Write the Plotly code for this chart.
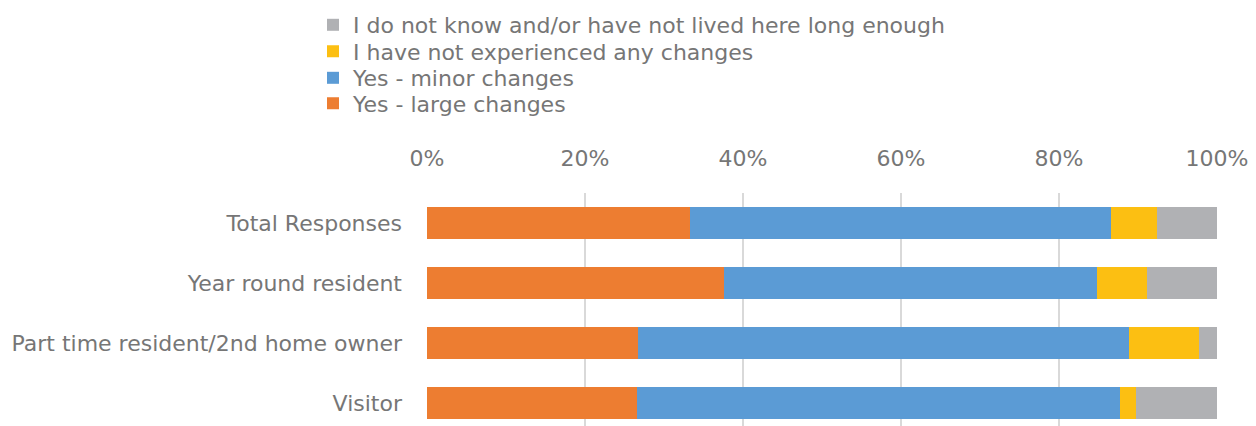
import plotly.graph_objects as go

categories = ["Total Responses", "Year round resident", "Part time resident/2nd home owner", "Visitor"]
large = [33.3, 37.6, 26.7, 26.6]
minor = [53.3, 47.2, 62.2, 61.1]
none_ = [5.8, 6.3, 8.8, 2.0]
dont_know = [7.6, 8.9, 2.3, 10.3]

series_names = ["Yes - large changes", "Yes - minor changes",
                "I have not experienced any changes",
                "I do not know and/or have not lived here long enough"]
series_values = [large, minor, none_, dont_know]
series_colors = ["#ED7D31", "#5B9BD5", "#FCBF12", "#B0B1B4"]

tickvals = [0, 20, 40, 60, 80, 100]
ticktext = ["0%", "20%", "40%", "60%", "80%", "100%"]

TXT = "#767676"
FONT = "DejaVu Sans"
FS = 22

# page has an 8px body margin; compensate
OFF = 8
W, H = 1256 - OFF, 426 - OFF
x0_abs, x1_abs, top_abs, bot_abs = 427, 1217, 193, 426
ml = x0_abs - OFF
mr = (W + OFF) - x1_abs
mt = top_abs - OFF
mb = 0
ph = bot_abs - top_abs
pw = x1_abs - x0_abs

# legend rows (absolute y centres) – top row is the last series
legend_rows = [103.5, 78, 51.5, 25]
legend_x_abs = 313

fig = go.Figure()
layout_legends = {}
for i, (name, vals, color) in enumerate(zip(series_names, series_values, series_colors)):
    key = "legend" if i == 0 else f"legend{i+1}"
    fig.add_trace(go.Bar(
        y=categories, x=vals, name=name, orientation="h",
        marker=dict(color=color, line=dict(width=0)),
        width=0.52, legend=key,
    ))
    layout_legends[key] = dict(
        x=(legend_x_abs - x0_abs) / pw, xanchor="left",
        y=(bot_abs - legend_rows[i]) / ph, yanchor="middle",
        font=dict(family=FONT, size=FS, color=TXT),
        bgcolor="rgba(0,0,0,0)", itemwidth=30,
    )

fig.update_layout(
    width=W, height=H,
    barmode="stack",
    margin=dict(l=ml, r=mr, t=mt, b=mb, pad=0, autoexpand=False),
    paper_bgcolor="white", plot_bgcolor="white",
    font=dict(family=FONT, size=FS, color=TXT),
    showlegend=True,
    xaxis=dict(
        side="top", range=[0, 100], tickvals=tickvals, ticktext=ticktext,
        showgrid=True, gridcolor="#D9D9D9", gridwidth=2,
        zeroline=False, showline=False, ticks="",
        ticklabelstandoff=22, automargin=False,
        tickfont=dict(family=FONT, size=FS, color=TXT),
        fixedrange=True,
    ),
    yaxis=dict(
        categoryorder="array", categoryarray=categories,
        range=[(ph / 60) - 0.5, -0.5],
        showgrid=False, zeroline=False, showline=False, ticks="",
        ticklabelstandoff=24, automargin=False,
        tickfont=dict(family=FONT, size=FS, color=TXT),
        fixedrange=True,
    ),
    **layout_legends,
)

fig.write_html("out.html")
